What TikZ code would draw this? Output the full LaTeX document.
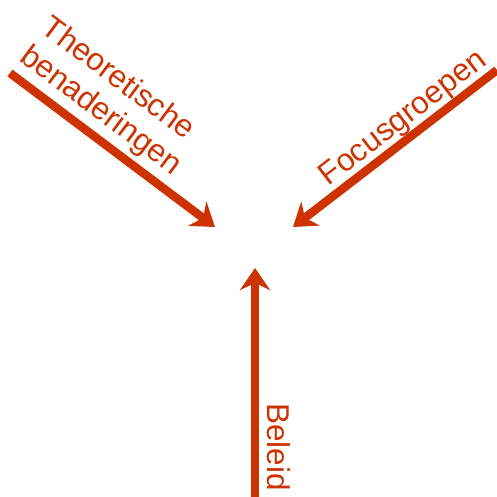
\documentclass[tikz,border=0pt]{standalone}
\usepackage{fontspec}
\setmainfont{Liberation Sans}
\usetikzlibrary{arrows.meta}
\definecolor{rust}{HTML}{CC3300}
\begin{document}
\begin{tikzpicture}[x=1pt,y=-1pt,
  flow/.style={draw=rust,line width=8.5pt,-{Stealth[length=22pt,width=30pt,inset=7pt]}},
  lbl/.style={text=rust,font=\fontsize{31.5}{36}\selectfont,inner sep=0pt}]
\useasboundingbox (0,0) rectangle (497,497);
\coordinate (tl) at (10,73);
\coordinate (tr) at (497,70);
\coordinate (bt) at (255,497);
\coordinate (ctl) at (215,227);
\coordinate (ctr) at (293,227);
\coordinate (cb) at (255,268);
\draw[flow] (tl) -- (ctl);
\draw[flow] (tr) -- (ctr);
\draw[flow] (bt) -- (cb);
\node[lbl,rotate=-36.7,align=left] (theo) at (111,97) {Theoretische\\benaderingen};
\node[lbl,rotate=37.6] (focus) at (404,119) {Focusgroepen};
\node[lbl,rotate=-90] (beleid) at (279,447) {Beleid};
\end{tikzpicture}
\end{document}
